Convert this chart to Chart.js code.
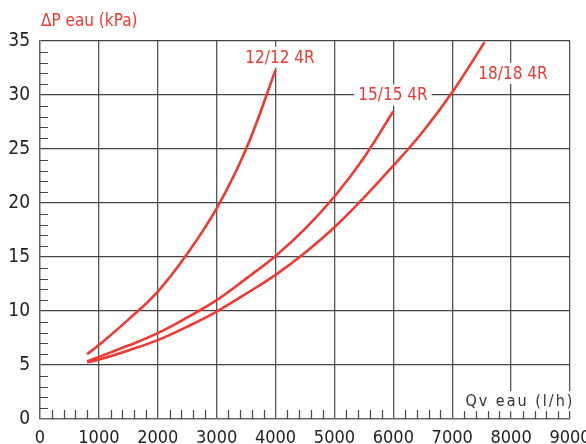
<!DOCTYPE html>
<html>
<head>
<meta charset="utf-8">
<script src="https://cdn.jsdelivr.net/npm/chart.js@4.4.1/dist/chart.umd.min.js"></script>
<style>
  html, body { margin: 0; padding: 0; background: #fff; }
  #wrap { width: 586px; height: 444px; position: relative; }
</style>
</head>
<body>
<div id="wrap"><canvas id="myChart"></canvas></div>
<script>
// débit (l/h) et perte de charge (kPa)
const q12 = [800, 1000, 1500, 2000, 2500, 3000, 3500, 4000];
const dp12 = [6.0, 6.85, 9.2, 11.8, 15.3, 19.5, 25.0, 32.3];

const q15 = [800, 1000, 1500, 2000, 2500, 3000, 3500, 4000, 4500, 5000, 5500, 6000];
const dp15 = [5.35, 5.75, 6.8, 7.95, 9.4, 11.0, 13.0, 15.1, 17.6, 20.6, 24.2, 28.5];

const q18 = [800, 1000, 1500, 2000, 2500, 3000, 3500, 4000, 4500, 5000, 5500, 6000, 6500, 7000, 7550];
const dp18 = [5.25, 5.5, 6.35, 7.3, 8.55, 9.95, 11.6, 13.35, 15.4, 17.75, 20.5, 23.45, 26.6, 30.25, 34.9];

const seriesNames = ["12/12 4R", "15/15 4R", "18/18 4R"];
const xTicks = [0, 1000, 2000, 3000, 4000, 5000, 6000, 7000, 8000, 9000];
const yTicks = [0, 5, 10, 15, 20, 25, 30, 35];

const FONT = "'Liberation Sans Narrow', 'DejaVu Sans Condensed', 'Roboto', sans-serif";
const RED = "#ee3a32";

function pts(xs, ys) {
  return xs.map((x, i) => ({ x: x, y: ys[i] }));
}

// petites graduations sur les axes
const minorTicks = {
  id: "minorTicks",
  afterDatasetsDraw(chart) {
    const { ctx, scales } = chart;
    const xs = scales.x, ys = scales.y;
    ctx.save();
    ctx.strokeStyle = "#444";
    ctx.lineWidth = 1.2;
    ctx.beginPath();
    for (let v = 1; v < 35; v++) {
      if (v % 5 === 0) continue;
      const py = Math.round(ys.getPixelForValue(v)) + 0.5;
      ctx.moveTo(xs.left, py);
      ctx.lineTo(xs.left + 8, py);
    }
    for (let v = 200; v < 9000; v += 200) {
      if (v % 1000 === 0) continue;
      const px = Math.round(xs.getPixelForValue(v)) + 0.5;
      ctx.moveTo(px, ys.bottom);
      ctx.lineTo(px, ys.bottom - 9);
    }
    ctx.stroke();
    ctx.restore();
  },
};

// étiquettes avec fond blanc
const labels = [
  { text: seriesNames[0], x: 4075, y: 33.5, color: RED, size: 17, spacing: "0px" },
  { text: seriesNames[1], x: 5994, y: 30.0, color: RED, size: 17, spacing: "0px" },
  { text: seriesNames[2], x: 8032, y: 32.0, color: RED, size: 17, spacing: "0px" },
  { text: "Qv eau (l/h)", x: 8150, y: 1.65, color: "#333", size: 16, spacing: "2px" },
];

const boxLabels = {
  id: "boxLabels",
  afterDraw(chart) {
    const { ctx, scales } = chart;
    ctx.save();
    labels.forEach((l) => {
      ctx.font = l.size + "px " + FONT;
      ctx.letterSpacing = l.spacing;
      const w = ctx.measureText(l.text).width;
      const px = scales.x.getPixelForValue(l.x);
      const py = scales.y.getPixelForValue(l.y);
      ctx.fillStyle = "#fff";
      ctx.fillRect(px - w / 2 - 4, py - l.size / 2 - 2, w + 8, l.size + 4);
      ctx.fillStyle = l.color;
      ctx.textAlign = "center";
      ctx.textBaseline = "middle";
      ctx.fillText(l.text, px, py + 1);
    });
    ctx.letterSpacing = "0px";
    // titre de l'axe Y
    ctx.font = "17px " + FONT;
    ctx.fillStyle = RED;
    ctx.textAlign = "left";
    ctx.textBaseline = "middle";
    ctx.fillText("\u0394P eau (kPa)", 41, 22);
    ctx.restore();
  },
};

const data = {
  datasets: [
    { label: seriesNames[0], data: pts(q12, dp12) },
    { label: seriesNames[1], data: pts(q15, dp15) },
    { label: seriesNames[2], data: pts(q18, dp18) },
  ].map((d) => ({
    ...d,
    borderColor: RED,
    borderWidth: 2.6,
    pointRadius: 0,
    tension: 0.4,
    fill: false,
  })),
};

const config = {
  type: "line",
  data: data,
  options: {
    responsive: true,
    maintainAspectRatio: false,
    animation: false,
    layout: { padding: { top: 41, right: 16, left: 0, bottom: 0 } },
    scales: {
      x: {
        type: "linear",
        min: 0,
        max: 9000,
        afterFit: (s) => {
          s.height = 25;
          s.paddingLeft = 0;
          s.paddingRight = 0;
        },
        afterBuildTicks: (s) => { s.ticks = xTicks.map((v) => ({ value: v })); },
        grid: { color: "#555", lineWidth: 1.3, drawTicks: false },
        border: { color: "#666", width: 1.3 },
        ticks: {
          padding: 9,
          color: "#222",
          font: { family: FONT, size: 18 },
          maxRotation: 0,
          callback: (v) => String(v),
        },
      },
      y: {
        min: 0,
        max: 35,
        afterFit: (s) => { s.width = 40; },
        afterBuildTicks: (s) => { s.ticks = yTicks.map((v) => ({ value: v })); },
        grid: { color: "#444", lineWidth: 1.3, drawTicks: false },
        border: { color: "#666", width: 1.3 },
        ticks: {
          padding: 10,
          color: "#222",
          font: { family: FONT, size: 19 },
          callback: (v) => String(v),
        },
      },
    },
    plugins: {
      legend: { display: false },
      tooltip: { enabled: false },
    },
  },
  plugins: [minorTicks, boxLabels],
};

const myChart = new Chart(document.getElementById("myChart"), config);
</script>
</body>
</html>
